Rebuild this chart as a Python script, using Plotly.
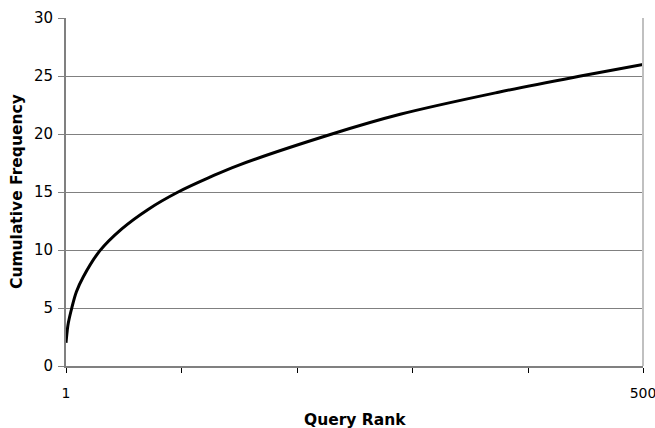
import plotly.graph_objects as go

# Data
query_rank = [1, 2, 3, 6, 10, 16, 30, 49, 72, 98, 126, 150, 231, 290, 375, 446, 500]
cumulative_frequency = [2.0, 3.0, 3.7, 5.0, 6.4, 7.7, 9.9, 11.8, 13.5, 15.0, 16.3, 17.3, 20.0, 21.7, 23.6, 25.0, 26.0]

x_tick_vals = [1, 101, 201, 301, 401, 500]
x_tick_text = ["1", "", "", "", "", "500"]
y_tick_vals = [0, 5, 10, 15, 20, 25, 30]

font_family = "DejaVu Sans"

fig = go.Figure()
fig.add_trace(go.Scatter(
    x=query_rank,
    y=cumulative_frequency,
    mode="lines",
    line=dict(color="black", width=3, shape="spline", smoothing=1.0),
    showlegend=False,
    hoverinfo="skip",
))

fig.update_layout(
    width=655,
    height=428,
    margin=dict(l=66, r=12, t=18, b=62),
    paper_bgcolor="white",
    plot_bgcolor="white",
    font=dict(family=font_family, size=15, color="black"),
    shapes=[dict(type="line", xref="paper", yref="paper", x0=1, x1=1, y0=0, y1=1,
                 line=dict(color="#c0c0c0", width=2))],
    annotations=[
        dict(text="<b>Query Rank</b>", xref="paper", yref="paper", x=0.5, y=0,
             yshift=-54, xanchor="center", yanchor="middle", showarrow=False,
             font=dict(size=15.5, family=font_family)),
        dict(text="<b>Cumulative Frequency</b>", xref="paper", yref="paper", x=0, y=0.5,
             xshift=-49, xanchor="center", yanchor="middle", textangle=-90, showarrow=False,
             font=dict(size=15.5, family=font_family)),
    ],
)

fig.update_xaxes(
    range=[1, 500],
    tickvals=x_tick_vals,
    ticktext=x_tick_text,
    ticks="outside",
    ticklen=5,
    tickcolor="#000000",
    tickwidth=1,
    ticklabelstandoff=8,
    ticklabeloverflow="allow",
    showgrid=False,
    zeroline=False,
    showline=True,
    linecolor="#808080",
    linewidth=2,
    automargin=False,
    tickfont=dict(size=14, family=font_family),
)

fig.update_yaxes(
    range=[0, 30],
    tickvals=y_tick_vals,
    ticks="outside",
    ticklen=6,
    tickcolor="#808080",
    tickwidth=1,
    ticklabelstandoff=2,
    showgrid=True,
    gridcolor="#808080",
    gridwidth=1,
    zeroline=False,
    showline=True,
    linecolor="#808080",
    linewidth=2,
    automargin=False,
    tickfont=dict(size=15, family=font_family),
)

fig.write_html(
    "out.html",
    config={"displayModeBar": False, "staticPlot": True},
    post_script="document.body.style.margin='0px';document.body.style.overflow='hidden';",
)
